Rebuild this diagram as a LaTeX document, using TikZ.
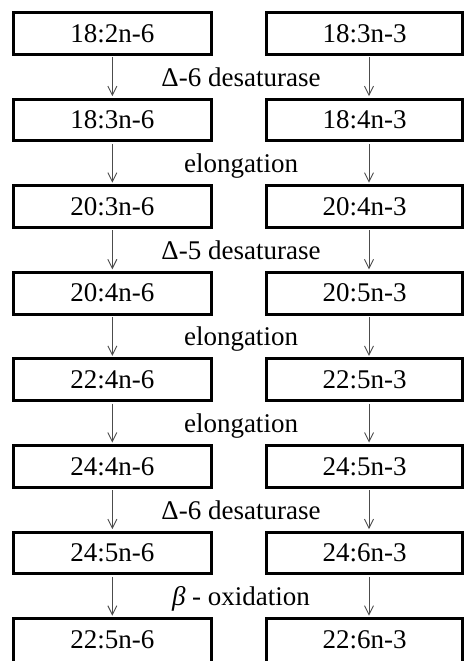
\documentclass[tikz,border=0pt]{standalone}
\usepackage{fontspec}
\setmainfont{Liberation Serif}
\usetikzlibrary{arrows.meta}
\begin{document}
\begin{tikzpicture}[x=1pt,y=1pt,
  fa/.style={draw=black, line width=3pt, minimum height=41.7pt, inner sep=0pt, fill=white, font=\fontsize{27}{30}\selectfont},
  faL/.style={fa, minimum width=198.3pt},
  faR/.style={fa, minimum width=196pt},
  lastrow/.style={minimum height=49.7pt, text depth=8pt, yshift=-4pt},
  conv/.style={draw=black!70, line width=0.9pt, -{Straight Barb[length=9pt,width=9pt,line width=0.9pt]}, shorten >=1.5pt, shorten <=1.5pt},
  lab/.style={anchor=base, inner sep=0pt, font=\fontsize{27}{30}\selectfont}]
\useasboundingbox[fill=white] (0,0) rectangle (465,-661);
\def\pitch{86.6}
\foreach \k/\l/\r in {0/18:2n-6/18:3n-3, 1/18:3n-6/18:4n-3, 2/20:3n-6/20:4n-3, 3/20:4n-6/20:5n-3, 4/22:4n-6/22:5n-3, 5/24:4n-6/24:5n-3, 6/24:5n-6/24:6n-3}{
  \node[faL] (l\k) at (112.35,{-33.35-\pitch*\k}) {\l};
  \node[faR] (r\k) at (364.5,{-33.35-\pitch*\k}) {\r};
}
\node[faL,lastrow] (l7) at (112.35,{-33.35-\pitch*7}) {22:5n-6};
\node[faR,lastrow] (r7) at (364.5,{-33.35-\pitch*7}) {22:6n-3};
\foreach \k [evaluate=\k as \n using int(\k+1)] in {0,...,6}{
  \draw[conv] (l\k.south) -- (l\n.north);
  \draw[conv] ([xshift=4.5pt]r\k.south) -- ([xshift=4.5pt]r\n.north);
}
\node[lab] (g0) at (241,{-86-\pitch*0}) {Δ-6 desaturase};
\node[lab] (g1) at (241,{-86-\pitch*1}) {elongation};
\node[lab] (g2) at (241,{-86-\pitch*2}) {Δ-5 desaturase};
\node[lab] (g3) at (241,{-86-\pitch*3}) {elongation};
\node[lab] (g4) at (241,{-86-\pitch*4}) {elongation};
\node[lab] (g5) at (241,{-86-\pitch*5}) {Δ-6 desaturase};
\node[lab] (g6) at (241,{-86-\pitch*6}) {{\itshape β} - oxidation};
\end{tikzpicture}
\end{document}
